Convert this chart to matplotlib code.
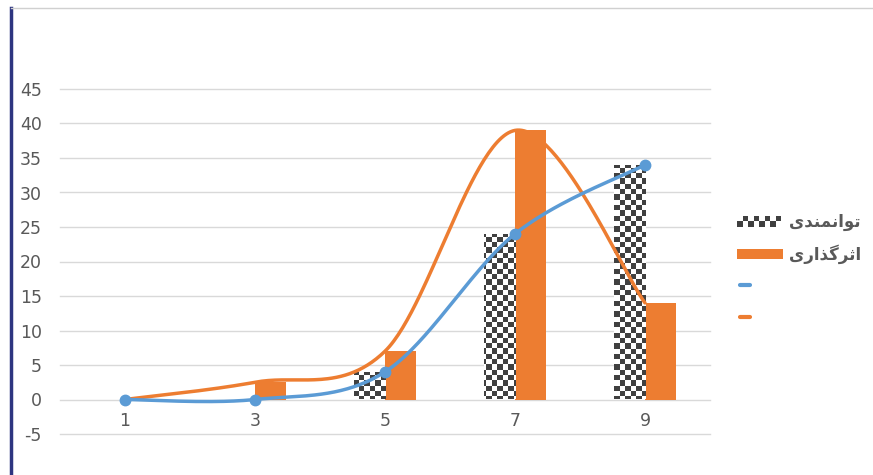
import numpy as np
import matplotlib
matplotlib.use("Agg")
import matplotlib.pyplot as plt
from matplotlib.lines import Line2D
from matplotlib.patches import Rectangle
from matplotlib.legend_handler import HandlerBase

plt.rcParams["axes.unicode_minus"] = False

# data
categories = ["1", "3", "5", "7", "9"]
tavanmandi = [0, 0, 4, 24, 34]       # checker bars + blue line
asargozari = [0, 2.5, 7, 39, 14]     # orange bars + orange line

# labels (Persian, pre-shaped in visual order so matplotlib draws joined glyphs)
label_tav = "\uFBFC\uFEAA\uFEE8\uFEE4\uFEE7\uFE8D\uFEEE\uFE97"   # توانمندی
label_asr = "\uFBFC\uFEAD\uFE8D\uFEAC\uFB94\uFEAE\uFE9B\uFE8D"   # اثرگذاری

BLUE = "#5b9bd5"
ORANGE = "#ed7d31"
DARK = "#404040"
GRID = "#d9d9d9"
TXT = "#595959"


def smooth(xv, yv, n=60):
    # excel-like bezier smoothing
    pts = np.column_stack([xv, yv]).astype(float)
    out = []
    for i in range(len(pts) - 1):
        p0 = pts[i - 1] if i > 0 else pts[i]
        p1 = pts[i]
        p2 = pts[i + 1]
        p3 = pts[i + 2] if i + 2 < len(pts) else pts[i + 1]
        c1 = p1 + (p2 - p0) / 6
        c2 = p2 - (p3 - p1) / 6
        t = np.linspace(0, 1, n)[:, None]
        seg = ((1 - t) ** 3) * p1 + 3 * ((1 - t) ** 2) * t * c1 + 3 * (1 - t) * t ** 2 * c2 + t ** 3 * p2
        out.append(seg if i == 0 else seg[1:])
    out = np.vstack(out)
    return out[:, 0], out[:, 1]


class CheckerHandler(HandlerBase):
    def create_artists(self, legend, orig, xd, yd, width, height, fontsize, trans):
        arts = []
        sq = 4.0
        nx = int(width // sq)
        for r in range(2):
            for c in range(nx):
                col = DARK if (r + c) % 2 == 0 else "white"
                arts.append(Rectangle((-xd + c * sq, -yd + height / 2 - sq + r * sq), sq, sq,
                                      facecolor=col, edgecolor="none", transform=trans))
        return arts


class ShortLineHandler(HandlerBase):
    def create_artists(self, legend, orig, xd, yd, width, height, fontsize, trans):
        y = height / 2 - yd
        ln = Line2D([-xd + 2, -xd + width * 0.28], [y, y], color=orig.get_color(), lw=3,
                    solid_capstyle="round", transform=trans)
        return [ln]


fig = plt.figure(figsize=(8.73, 4.75), dpi=100)
ax = fig.add_axes([60 / 873, 41 / 475, 650 / 873, 345 / 475])

x = np.arange(len(categories))
w = 0.24
bars_t = ax.bar(x - w / 2, tavanmandi, width=w, color="none", edgecolor="none", zorder=2)
bars_a = ax.bar(x + w / 2, asargozari, width=w, color=ORANGE, edgecolor="none", zorder=2)

# checkerboard fill for the first series
ncols, nrows = 122, 65
checker = (np.add.outer(np.arange(nrows), np.arange(ncols)) % 2).astype(float)
for b in bars_t:
    if b.get_height() <= 0:
        continue
    im = ax.imshow(checker, cmap=matplotlib.colors.ListedColormap([DARK, "white"]),
                   extent=[-0.5, 4.5, -5, 45], origin="lower", aspect="auto",
                   interpolation="nearest", zorder=2)
    im.set_clip_path(b)

sx, sy = smooth(x, tavanmandi)
ax.plot(sx, sy, color=BLUE, lw=2.5, zorder=4, solid_capstyle="round")
ax.plot(x, tavanmandi, "o", color=BLUE, ms=7.5, zorder=5)
ox, oy = smooth(x, asargozari)
ax.plot(ox, oy, color=ORANGE, lw=2.5, zorder=3, solid_capstyle="round")

ax.set_xlim(-0.5, 4.5)
ax.set_ylim(-5, 45)
ax.set_yticks(np.arange(-5, 46, 5))
ax.set_xticks(x)
ax.set_xticklabels(categories)
ax.grid(axis="y", color=GRID, lw=1)
for gl in ax.get_ygridlines():
    gl.set_clip_on(False)
ax.set_axisbelow(True)
for s in ax.spines.values():
    s.set_visible(False)
ax.spines["bottom"].set_position(("data", 0))
ax.tick_params(axis="both", length=0, colors=TXT, labelsize=12.5)
ax.tick_params(axis="y", pad=13)
ax.tick_params(axis="x", pad=9)
ax.patch.set_alpha(0)

# frame decorations
fig.add_artist(Line2D([11 / 873, 11 / 873], [0, 1 - 8 / 475], color="#2e3580", lw=2.5))
fig.add_artist(Line2D([11 / 873, 1], [1 - 8 / 475, 1 - 8 / 475], color="#d0d0d0", lw=1))

h_t = Rectangle((0, 0), 1, 1)
h_a = Rectangle((0, 0), 1, 1, facecolor=ORANGE)
h_bl = Line2D([], [], color=BLUE)
h_ol = Line2D([], [], color=ORANGE)
leg = fig.legend([h_t, h_a, h_bl, h_ol], [label_tav, label_asr, "", ""],
                 loc="upper left", bbox_to_anchor=(737 / 873, 1 - 213 / 475),
                 frameon=False, borderpad=0, borderaxespad=0, handlelength=2.75,
                 handleheight=0.6, handletextpad=0.4, labelspacing=0.8,
                 prop={"family": "DejaVu Sans", "size": 12, "weight": "bold"},
                 handler_map={h_t: CheckerHandler(), h_bl: ShortLineHandler(),
                              h_ol: ShortLineHandler()})
for t in leg.get_texts():
    t.set_color(TXT)

fig.savefig("out.png", dpi=100)
